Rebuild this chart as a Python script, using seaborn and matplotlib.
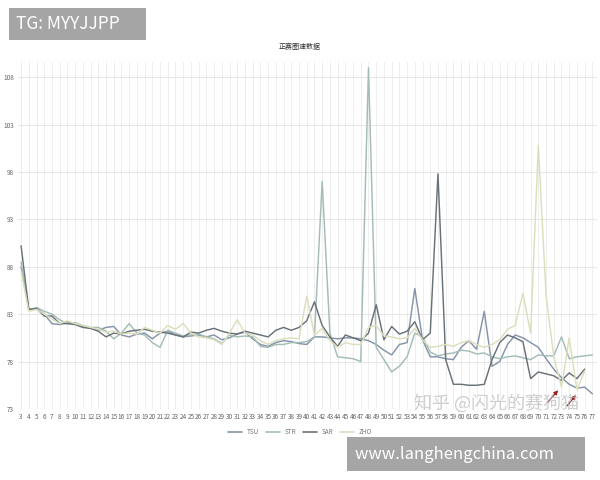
import numpy as np
import pandas as pd
import matplotlib
matplotlib.use("Agg")
import matplotlib.pyplot as plt
import seaborn as sns

# ── Data: lap times per driver (laps 3..77) ──
laps = list(range(3, 78))

tsu = [88.0, 83.5, 83.6, 83.0, 82.0, 81.9, 82.2, 82.0, 81.7, 81.5,
       81.3, 81.6, 81.7, 80.8, 80.6, 80.9, 81.0, 80.4, 81.0, 81.2,
       80.8, 80.6, 80.7, 80.8, 80.6, 80.8, 80.3, 80.5, 80.9, 81.1,
       80.4, 79.8, 79.6, 80.0, 80.2, 80.1, 79.9, 79.8, 80.6, 80.6,
       80.5, 80.4, 80.5, 80.5, 80.4, 80.2, 79.8, 79.2, 78.7, 79.8,
       80.0, 85.7, 80.3, 78.5, 78.5, 78.3, 78.2, 79.5, 80.2, 79.3,
       83.3, 77.5, 78.0, 79.8, 80.8, 80.5, 80.0, 79.5, 78.3, 77.2,
       76.3, 75.6, 75.2, 75.3, 74.6]

strr = [88.5, 83.4, 83.7, 83.3, 83.0, 82.4, 82.0, 82.1, 81.8, 81.6,
        81.6, 81.2, 80.4, 81.0, 82.0, 81.0, 80.8, 80.0, 79.5, 81.3,
        81.0, 80.7, 80.8, 80.9, 80.6, 80.4, 79.9, 80.8, 80.6, 80.7,
        80.6, 79.6, 79.5, 79.8, 79.8, 80.0, 80.0, 80.1, 80.6, 97.0,
        81.0, 78.5, 78.4, 78.3, 78.0, 109.0, 79.5, 78.2, 76.9, 77.5,
        78.5, 81.0, 80.6, 79.0, 78.6, 78.8, 78.9, 79.2, 79.1, 78.8,
        78.9, 78.5, 78.3, 78.5, 78.6, 78.4, 78.2, 78.7, 78.6, 78.6,
        80.6, 78.3, 78.5, 78.6, 78.7]

sar = [90.2, 83.5, 83.6, 82.8, 82.8, 82.0, 82.0, 81.9, 81.6, 81.5,
       81.2, 80.6, 81.0, 80.9, 81.2, 81.3, 81.4, 81.2, 81.1, 81.0,
       80.8, 80.6, 81.1, 81.0, 81.3, 81.5, 81.2, 81.0, 80.9, 81.2,
       81.0, 80.8, 80.6, 81.3, 81.6, 81.3, 81.6, 82.3, 84.3, 81.8,
       80.6, 79.6, 80.8, 80.5, 80.2, 81.0, 84.0, 80.3, 81.7, 80.9,
       81.2, 82.2, 80.3, 81.0, 97.8, 78.2, 75.6, 75.6, 75.5, 75.5,
       75.6, 78.2, 80.0, 80.8, 80.5, 80.1, 76.2, 76.9, 76.7, 76.5,
       76.0, 76.8, 76.2, 77.2, np.nan]

zho = [87.5, 83.3, 83.5, 83.0, 82.5, 82.0, 82.3, 82.0, 81.8, 81.6,
       81.4, 81.1, 81.2, 80.9, 81.0, 80.9, 81.6, 81.3, 81.0, 81.8,
       81.4, 82.0, 81.0, 80.6, 80.5, 80.3, 79.8, 81.0, 82.4, 81.0,
       80.8, 80.2, 79.8, 80.2, 80.4, 80.5, 80.4, 84.9, 80.8, 81.5,
       80.2, 79.5, 80.0, 79.8, 79.8, 81.6, 81.8, 80.7, 80.6, 80.4,
       80.5, 81.5, 80.3, 79.5, 79.6, 79.8, 79.6, 80.0, 80.2, 79.8,
       79.5, 79.8, 80.3, 81.4, 81.8, 85.2, 81.0, 100.8, 85.0, 78.5,
       75.3, 80.5, 75.0, 77.0, np.nan]

drivers = ["TSU", "STR", "SAR", "ZHO"]
colors = ["#8594aa", "#a3bdb6", "#697279", "#dcdfbc"]
yticks = [73, 78, 83, 88, 93, 98, 103, 108]

df = pd.DataFrame({"lap": laps, "TSU": tsu, "STR": strr, "SAR": sar, "ZHO": zho})
long = df.melt(id_vars="lap", var_name="driver", value_name="time").dropna()

# ── Plot ──
sns.set_theme(style="white")
plt.rcParams['font.family'] = ['Noto Sans CJK SC', 'DejaVu Sans']

fig = plt.figure(figsize=(6, 4.8), dpi=100)
ax = fig.add_axes([0.03, 0.148, 0.965, 0.723])

sns.lineplot(data=long, x="lap", y="time", hue="driver", hue_order=drivers,
             palette=dict(zip(drivers, colors)), linewidth=1.05, ax=ax, legend=False)

ax.set_xlim(2.6, 77.6)
ax.set_ylim(73, 109.6)
ax.set_xticks(laps)
ax.set_xticklabels([str(l) for l in laps], fontsize=4.6, color="#666666")
ax.set_yticks(yticks)
ax.set_yticklabels([str(y) for y in yticks], fontsize=4.6, color="#666666")
ax.tick_params(axis="both", length=0, pad=3)
ax.set_xlabel("")
ax.set_ylabel("")
for l in laps:
    ax.axvline(l, color="#ebebeb", lw=0.6, zorder=0)
for y in yticks:
    ax.axhline(y, color="#e6e6e6", lw=0.7, zorder=0)
for s in ax.spines.values():
    s.set_visible(False)

fig.text(0.5, 0.902, "正赛圈速数据", ha="center", va="center", fontsize=5, color="#333333")

handles = [plt.Line2D([], [], color=c, lw=1.2) for c in colors]
fig.legend(handles, drivers, loc="center", bbox_to_anchor=(0.5, 0.1), ncol=4,
           frameon=False, fontsize=4.6, handlelength=2.2, columnspacing=1.0,
           labelcolor="#777777")

# red arrows
for (x0, y0, x1, y1) in [(71.0, 73.5, 72.8, 75.2), (73.5, 73.1, 75.1, 74.7)]:
    ax.annotate("", xy=(x1, y1), xytext=(x0, y0),
                arrowprops=dict(arrowstyle="-|>", color="#a02020", lw=0.9, mutation_scale=6),
                annotation_clip=False)

# watermarks
fig.text(0.69, 0.16, "知乎 @闪光的赛狗猫", fontsize=13, color="#bbbbbb",
         alpha=0.7, ha="left", va="center")
fig.text(0.026, 0.95, "TG: MYYJJPP     ", fontsize=12.5, color="white", ha="left", va="center",
         bbox=dict(boxstyle="square,pad=0.4", fc="#a5a5a5", ec="none"))
fig.text(0.592, 0.054, "www.langhengchina.com      ", fontsize=12, color="white", ha="left", va="center",
         bbox=dict(boxstyle="square,pad=0.5", fc="#a5a5a5", ec="none"))

fig.savefig("out.png", dpi=100)
